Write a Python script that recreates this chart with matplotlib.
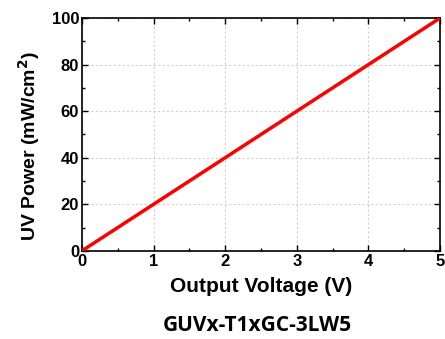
import matplotlib
matplotlib.use('Agg')
import matplotlib.pyplot as plt
import numpy as np

voltage = [0, 1, 2, 3, 4, 5]
power = [0, 20, 40, 60, 80, 100]
x_ticks = [0, 1, 2, 3, 4, 5]
y_ticks = [0, 20, 40, 60, 80, 100]

plt.rcParams['font.family'] = 'Liberation Sans'
plt.rcParams['font.weight'] = 'bold'

fig = plt.figure(figsize=(4.45, 3.39), dpi=100)
ax = fig.add_axes([0.184, 0.26, 0.805, 0.687])

ax.plot(voltage, power, color='#ff0000', lw=2.5, solid_capstyle='butt', zorder=3)

ax.set_xlim(0, 5)
ax.set_ylim(0, 100)
ax.set_xticks(x_ticks)
ax.set_yticks(y_ticks)
ax.set_xticks(np.arange(0.5, 5, 1), minor=True)
ax.set_yticks(np.arange(10, 100, 20), minor=True)
ax.tick_params(which='both', direction='in', top=True, right=True, labelsize=12, pad=2)
ax.tick_params(which='major', length=4, width=1)
ax.tick_params(which='minor', length=2.5, width=1)
ax.grid(True, which='major', color='#d0d0d0', ls=(0, (2, 2)), lw=0.8)
for lbl in ax.get_xticklabels() + ax.get_yticklabels():
    lbl.set_fontweight('bold')
for s in ax.spines.values():
    s.set_linewidth(1.2)

ax.set_xlabel('Output Voltage (V)', fontsize=15, fontweight='bold', labelpad=6)
ax.set_ylabel('UV Power (mW/cm$^\\mathbf{2}$)', fontsize=14, fontweight='bold')
ax.yaxis.set_label_coords(-0.11, 0.45)

fig.text(0.578, 0.04, 'GUVx-T1xGC-3LW5', ha='center', va='center', fontsize=15,
         fontweight='bold', family=['Open Sans', 'DejaVu Sans'])

fig.savefig('out.png', dpi=100)
